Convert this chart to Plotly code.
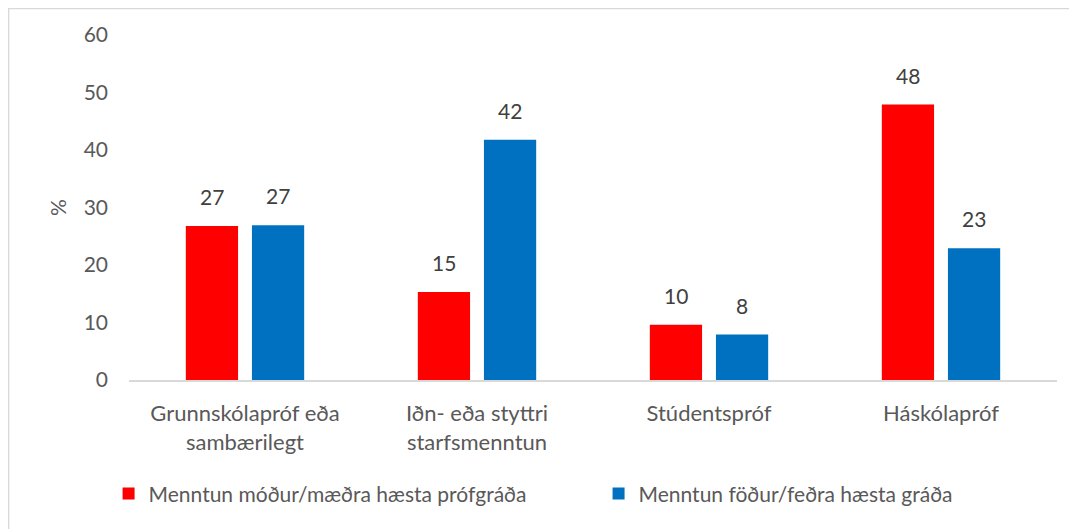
import plotly.graph_objects as go

categories = ["Grunnskólapróf eða<br>sambærilegt", "Iðn- eða styttri<br>starfsmenntun", "Stúdentspróf", "Háskólapróf"]
mother = [26.8, 15.3, 9.6, 47.9]
father = [26.9, 41.8, 7.9, 22.9]
series_names = ["Menntun móður/mæðra hæsta prófgráða", "Menntun föður/feðra hæsta gráða"]
colors = ["#FF0000", "#0070C0"]
y_ticks = [0, 10, 20, 30, 40, 50, 60]

FONT = "Lato"
TXT = "#595959"
FS = 21

fig = go.Figure()
for i, (name, vals, col) in enumerate(zip(series_names, [mother, father], colors)):
    fig.add_trace(go.Bar(x=categories, y=vals, name=name, marker=dict(color=col, line=dict(width=0)),
                         hoverinfo="skip", legend="legend" if i == 0 else "legend2"))

annotations = []
for i, vals in enumerate([mother, father]):
    shift = -33 if i == 0 else 33
    for c, v in zip(categories, vals):
        annotations.append(dict(x=c, y=v, xref="x", yref="y", text=f"{v:.0f}", showarrow=False,
                                xshift=shift, yshift=15, yanchor="bottom",
                                font=dict(family=FONT, size=FS, color="#404040")))

legend_common = dict(orientation="h", xanchor="left", y=-0.33, yanchor="middle",
                     font=dict(family=FONT, size=FS, color=TXT), itemclick=False,
                     bgcolor="rgba(0,0,0,0)")

# page body has an 8px margin; figure is sized/margined to land the plot area at 129..1057 x 35..380
fig.update_layout(
    width=1069, height=521,
    margin=dict(l=121, r=20, t=27, b=149, autoexpand=False),
    paper_bgcolor="white", plot_bgcolor="white",
    barmode="group", bargap=0.43, bargroupgap=0.21,
    font=dict(family=FONT, size=FS, color=TXT),
    showlegend=True,
    legend=dict(x=-0.022, **legend_common),
    legend2=dict(x=0.506, **legend_common),
    annotations=annotations,
    shapes=[dict(type="rect", xref="paper", yref="paper", x0=-0.1298, x1=1.05, y0=-0.5, y1=1.0768,
                 line=dict(color="#D9D9D9", width=1.5), fillcolor="rgba(0,0,0,0)", layer="below")],
)
fig.update_xaxes(showline=True, linecolor="#D9D9D9", linewidth=1.5, showgrid=False, ticks="",
                 ticklabelstandoff=13, automargin=False,
                 tickfont=dict(family=FONT, size=22, color=TXT), fixedrange=True)
fig.update_yaxes(range=[0, 60], tickvals=y_ticks, showgrid=False, zeroline=False, showline=False,
                 ticks="", ticklabelstandoff=20, automargin=False,
                 title=dict(text="%", font=dict(family=FONT, size=FS, color=TXT), standoff=11),
                 tickfont=dict(family=FONT, size=FS, color=TXT), fixedrange=True)

fig.write_html("out.html")
